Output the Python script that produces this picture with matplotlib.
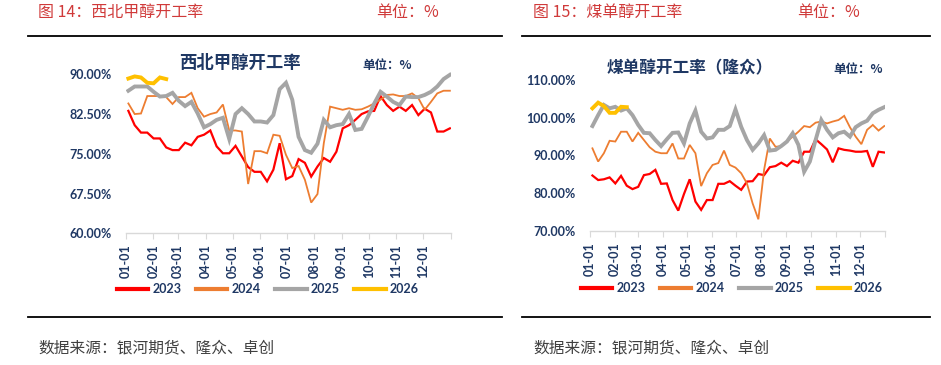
import matplotlib
matplotlib.use("Agg")
import matplotlib.pyplot as plt
from matplotlib.lines import Line2D
import numpy as np

plt.rcParams['font.family'] = ['Noto Sans CJK SC', 'DejaVu Sans']

# ---------------- data ----------------
month_starts = [0, 31, 59, 90, 120, 151, 181, 212, 243, 273, 304, 334]
month_labels = ["01-01", "02-01", "03-01", "04-01", "05-01", "06-01",
                "07-01", "08-01", "09-01", "10-01", "11-01", "12-01"]
years = ["2023", "2024", "2025", "2026"]

# 西北甲醇开工率 (%), weekly
nw_2023 = [83.1, 80.4, 79.0, 79.0, 77.9, 77.9, 76.2, 75.7, 75.7, 77.1, 76.6, 78.2,
           78.6, 79.4, 76.4, 75.1, 75.1, 76.5, 74.5, 72.5, 71.6, 71.6, 69.8, 72.0,
           77.0, 70.2, 70.8, 74.0, 73.3, 70.7, 72.6, 74.2, 73.5, 75.4, 79.8, 80.4,
           81.4, 82.5, 83.0, 83.1, 85.9, 84.2, 83.1, 83.9, 83.1, 84.2, 82.3, 83.5,
           82.8, 79.2, 79.2, 79.8]
nw_2024 = [84.5, 82.5, 82.6, 85.9, 85.9, 85.9, 85.7, 84.4, 85.7, 85.7, 86.5, 83.6,
           82.0, 82.5, 82.8, 84.3, 79.4, 79.4, 79.2, 69.3, 75.5, 75.5, 75.1, 78.6,
           78.4, 74.8, 72.3, 72.7, 70.1, 65.8, 67.4, 77.0, 83.9, 83.6, 83.3, 83.6,
           83.3, 83.4, 83.9, 84.5, 85.2, 86.1, 86.2, 85.9, 85.9, 86.4, 85.5, 83.3,
           84.8, 86.4, 86.9, 86.9]
nw_2025 = [86.9, 87.7, 87.7, 87.7, 86.7, 85.8, 85.9, 86.5, 85.0, 84.0, 84.8, 82.6,
           80.0, 80.6, 81.4, 81.8, 77.8, 82.5, 83.6, 82.5, 81.1, 81.1, 80.9, 82.3,
           87.2, 88.4, 85.2, 78.2, 75.7, 75.2, 76.9, 81.4, 80.0, 80.4, 80.6, 82.5,
           79.5, 79.7, 82.0, 84.5, 86.7, 85.8, 84.8, 84.2, 85.8, 85.7, 85.7, 86.1,
           86.7, 87.7, 89.1, 89.9]
nw_2026 = [89.2, 89.6, 89.4, 88.4, 88.3, 89.4, 89.1]

# 煤单醇开工率（隆众） (%), weekly
coal_2023 = [84.7, 83.5, 83.7, 84.2, 82.6, 84.6, 82.0, 81.1, 81.7, 84.8, 85.1, 86.2,
             82.5, 82.6, 78.2, 75.4, 79.8, 83.7, 77.8, 75.6, 78.2, 78.2, 82.5, 82.5,
             83.2, 82.0, 80.9, 83.1, 83.2, 85.1, 84.8, 86.9, 87.2, 88.1, 87.2, 88.6,
             88.1, 91.0, 91.0, 94.3, 93.0, 91.6, 88.2, 91.9, 91.5, 91.3, 91.0, 91.0,
             91.2, 87.0, 91.0, 90.8]
coal_2024 = [91.9, 88.4, 90.6, 93.9, 93.7, 96.3, 96.3, 93.7, 96.0, 94.1, 92.2, 91.0,
             90.6, 90.6, 93.2, 89.2, 89.2, 92.8, 90.6, 81.9, 85.3, 87.5, 88.0, 91.3,
             87.5, 86.8, 85.3, 82.6, 77.3, 73.1, 86.2, 94.5, 92.3, 92.5, 93.7, 95.0,
             96.3, 97.8, 97.5, 98.7, 99.0, 98.5, 99.0, 99.4, 100.5, 97.5, 95.0, 93.0,
             96.8, 98.1, 96.6, 97.8]
coal_2025 = [97.8, 100.7, 103.4, 102.5, 102.9, 101.9, 102.5, 100.7, 98.1, 96.0, 95.9,
             94.1, 92.5, 94.3, 96.0, 96.1, 93.2, 98.5, 101.9, 96.3, 94.5, 94.8, 96.8,
             96.8, 97.8, 102.2, 97.6, 94.1, 91.5, 93.2, 95.4, 91.3, 91.5, 92.5, 93.7,
             95.9, 92.8, 85.7, 88.4, 94.1, 99.4, 96.8, 94.8, 95.9, 96.3, 95.0, 97.5,
             98.5, 99.2, 101.2, 102.1, 102.8]
coal_2026 = [102.5, 104.0, 103.1, 101.3, 101.3, 102.9, 102.8]

nw_ticks = [60, 67.5, 75, 82.5, 90]
coal_ticks = [70, 80, 90, 100, 110]

# ---------------- style ----------------
W, H = 941, 365
NAVY = '#1F3864'
HEAD_RED = '#D03A3A'
colors = ['#FF0000', '#ED7D31', '#A5A5A5', '#FFC000']
widths = [1.6, 1.3, 2.8, 2.8]
NUMFONT = ['Lato', 'DejaVu Sans']

fig = plt.figure(figsize=(W / 100, H / 100), dpi=100)


def fx(x):
    return x / W


def fy(y):
    return 1 - y / H


def week_x(n):
    return [3 + 7.08 * i for i in range(n)]


def make_axes(rect_px, series, yticks, ylim):
    l, t, r, b = rect_px
    ax = fig.add_axes([fx(l), fy(b), fx(r - l), (b - t) / H])
    for s, c, lw in zip(series, colors, widths):
        ax.plot(week_x(len(s)), s, color=c, lw=lw, solid_joinstyle='miter')
    ax.set_xlim(0, 365)
    ax.set_ylim(*ylim)
    ax.set_yticks(yticks)
    ax.set_yticklabels([f"{v:.2f}%" for v in yticks], fontsize=9,
                       fontweight='bold', color=NAVY, family=NUMFONT)
    ax.set_xticks(month_starts + [365])
    ax.set_xticklabels(month_labels + [""], rotation=90, fontsize=9,
                       fontweight='bold', color=NAVY, family=NUMFONT)
    for sp in ['top', 'right', 'left']:
        ax.spines[sp].set_visible(False)
    ax.spines['bottom'].set_color('#D9D9D9')
    ax.spines['bottom'].set_linewidth(1.0)
    ax.tick_params(axis='y', length=0, pad=10)
    ax.tick_params(axis='x', length=4, color='#D9D9D9', pad=4)
    ax.patch.set_alpha(0)
    return ax


ax1 = make_axes((125.7, 74.3 - 2 * 5.3, 450.7, 233.3),
                [nw_2023, nw_2024, nw_2025, nw_2026], nw_ticks, (60, 92))
ax2 = make_axes((590, 80, 885, 231),
                [coal_2023, coal_2024, coal_2025, coal_2026], coal_ticks, (70, 110))

# legends
for cx, cy in [(268, 289), (732, 288)]:
    handles = [Line2D([], [], color=c, lw=3.0) for c in colors]
    leg = fig.legend(handles, years, loc='center', bbox_to_anchor=(fx(cx), fy(cy)),
                     ncol=4, frameon=False, handlelength=2.5, handletextpad=0.35,
                     columnspacing=1.15, prop={'family': NUMFONT,
                                               'weight': 'bold', 'size': 9})
    for t in leg.get_texts():
        t.set_color(NAVY)

# headers, rules, sources
for (x0, x1, tx, title, ux) in [(28, 502, 38, "图 14：西北甲醇开工率", 376),
                               (522, 930, 533, "图 15：煤单醇开工率", 797)]:
    fig.text(fx(tx), fy(12), title, color=HEAD_RED, fontsize=11.5, va='center', ha='left')
    fig.text(fx(ux), fy(12), "单位：%", color=HEAD_RED, fontsize=11.5, va='center', ha='left')
    fig.add_artist(Line2D([fx(x0), fx(x1)], [fy(36), fy(36)], color='black', lw=1.3))
    fig.add_artist(Line2D([fx(x0), fx(x1)], [fy(317), fy(317)], color='black', lw=1.3))
    fig.text(fx(tx), fy(348), "数据来源：银河期货、隆众、卓创", color='#404040',
             fontsize=11.3, va='center', ha='left', fontweight='light')

# inner titles
fig.text(fx(240), fy(63), "西北甲醇开工率", color=NAVY, fontsize=12.5, fontweight='bold',
         ha='center', va='center')
fig.text(fx(362), fy(65), "单位：%", color=NAVY, fontsize=9, fontweight='bold',
         ha='left', va='center')
fig.text(fx(690), fy(68), "煤单醇开工率（隆众）", color=NAVY, fontsize=12, fontweight='bold',
         ha='center', va='center')
fig.text(fx(833), fy(70), "单位：%", color=NAVY, fontsize=9, fontweight='bold',
         ha='left', va='center')

fig.savefig("out.png", dpi=100)
